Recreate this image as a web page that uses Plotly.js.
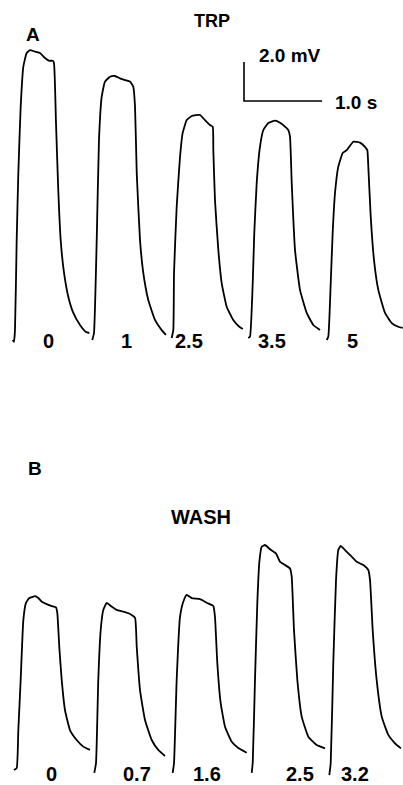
<!DOCTYPE html>
<html>
<head>
<meta charset="utf-8">
<script src="https://cdn.plot.ly/plotly-3.0.1.min.js"></script>
<style>html,body{margin:0;padding:0;background:#fff;}#chart{width:403px;height:785px;}</style>
</head>
<body>
<div id="chart"></div>
<script>
// ---- Data: time (s) and potential (mV) ----
// Panel A: TRP, concentration labels
var trpLabels = ['0', '1', '2.5', '3.5', '5'];
var trpTimes = [
  [0.163,0.179,0.192,0.214,0.235,0.265,0.299,0.342,0.385,0.449,0.513,0.577,0.632,0.676,0.692,0.718,0.747,0.778,0.821,0.876,0.940,1.026,1.103,1.145],
  [1.183,1.205,1.240,1.269,1.304,1.346,1.410,1.474,1.538,1.603,1.667,1.709,1.731,1.753,1.795,1.837,1.901,1.987,2.073,2.128],
  [2.201,2.222,2.231,2.265,2.308,2.342,2.394,2.458,2.564,2.628,2.692,2.727,2.735,2.756,2.799,2.842,2.906,2.991,3.068,3.112],
  [3.183,3.205,3.240,3.260,3.291,3.333,3.376,3.440,3.526,3.590,3.654,3.696,3.718,3.740,3.782,3.846,3.932,4.017,4.103],
  [4.188,4.209,4.240,4.265,4.295,4.337,4.394,4.445,4.529,4.615,4.679,4.709,4.722,4.753,4.795,4.850,4.936,5.022,5.106,5.163]
];
var trpVolts = [
  [0.05,-0.04,0.56,5.18,8.62,12.0,14.07,14.77,14.92,14.84,14.77,14.51,14.37,14.37,14.26,11.18,7.74,5.18,3.49,2.26,1.44,0.82,0.46,0.41],
  [0.05,0.41,5.18,10.31,12.53,13.30,13.55,13.59,13.47,13.38,13.30,13.04,12.02,8.62,5.18,3.49,2.10,1.08,0.56,0.31],
  [0.15,0.56,3.49,6.87,9.44,10.67,11.33,11.54,11.59,11.33,11.08,10.99,9.79,7.23,4.67,2.97,1.76,1.08,0.73,0.62],
  [0.15,0.22,2.97,5.54,8.10,9.96,10.82,11.18,11.30,11.19,10.99,10.82,10.48,8.10,4.67,2.62,1.44,0.82,0.56],
  [0.05,0.22,2.97,5.54,7.59,8.94,9.64,9.79,10.22,10.17,9.96,9.79,8.94,6.37,4.15,2.62,1.44,0.92,0.73,0.67]
];
// Panel B: WASH, time labels
var washLabels = ['0', '0.7', '1.6', '2.5', '3.2'];
var washTimes = [
  [0.179,0.214,0.235,0.265,0.299,0.333,0.376,0.427,0.449,0.491,0.535,0.599,0.663,0.718,0.735,0.760,0.791,0.833,0.897,0.983,1.068,1.154],
  [1.209,1.231,1.260,1.291,1.324,1.368,1.432,1.496,1.581,1.667,1.731,1.753,1.795,1.859,1.945,2.029,2.115],
  [2.214,2.231,2.265,2.308,2.350,2.394,2.458,2.564,2.650,2.735,2.756,2.786,2.829,2.885,2.971,3.055,3.163],
  [3.227,3.240,3.269,3.299,3.324,3.355,3.397,3.462,3.538,3.590,3.654,3.718,3.740,3.769,3.812,3.868,3.953,4.060,4.167],
  [4.222,4.240,4.273,4.308,4.337,4.368,4.423,4.509,4.573,4.658,4.722,4.744,4.778,4.829,4.894,4.978,5.064,5.141]
];
var washVolts = [
  [0.05,0.15,2.10,4.67,7.74,8.62,8.87,8.94,8.97,8.87,8.68,8.56,8.46,8.39,8.10,6.37,4.67,3.13,2.10,1.59,1.25,1.08],
  [-0.10,0.41,4.67,7.23,8.26,8.62,8.43,8.26,8.17,8.05,7.85,6.37,4.15,2.62,1.59,1.08,0.77],
  [-0.10,0.41,4.67,7.91,8.68,9.03,8.87,8.81,8.63,8.46,7.91,5.54,3.49,2.27,1.50,1.18,0.94],
  [-0.10,0.41,4.67,8.62,10.67,11.50,11.59,11.37,11.16,10.73,10.56,10.39,9.96,7.23,4.67,2.79,1.76,1.33,1.16],
  [-0.21,0.41,5.54,9.79,11.33,11.54,11.33,10.99,10.73,10.56,10.31,9.79,7.23,4.67,2.79,1.85,1.42,1.16]
];
// Scale bar values
var scaleTime = 1.0;   // s
var scaleVolt = 2.0;   // mV

// ---- Layout helpers ----
var W = 403, H = 785;
var pxPerS = 78, pxPerMV = 19.5;
var splitPx = 400;
var baseA = 341, baseB = 771;   // baseline pixel rows
function py(p) { return 1 - p / H; }

var lineStyle = {color: '#000', width: 1.8, shape: 'spline', smoothing: 0.4};
var traces = [];
trpTimes.forEach(function (t, i) {
  traces.push({x: t, y: trpVolts[i], type: 'scatter', mode: 'lines', line: lineStyle,
    xaxis: 'x', yaxis: 'y', hoverinfo: 'skip', showlegend: false, name: 'TRP ' + trpLabels[i]});
});
washTimes.forEach(function (t, i) {
  traces.push({x: t, y: washVolts[i], type: 'scatter', mode: 'lines', line: lineStyle,
    xaxis: 'x', yaxis: 'y2', hoverinfo: 'skip', showlegend: false, name: 'WASH ' + washLabels[i]});
});
// scale bar
var sbT = 244 / pxPerS, sbV = (baseA - 101) / pxPerMV;
traces.push({x: [sbT, sbT, sbT + scaleTime], y: [sbV + scaleVolt, sbV, sbV], type: 'scatter', mode: 'lines',
  line: {color: '#000', width: 1.6}, xaxis: 'x', yaxis: 'y', hoverinfo: 'skip', showlegend: false});

var fam = 'Liberation Sans, Arial, sans-serif';
function f(size) { return {family: fam, color: '#000', size: size, weight: 'bold'}; }
var ann = [];
var trpLabelT = [0.628, 1.628, 2.423, 3.487, 4.513];
trpLabels.forEach(function (l, i) {
  ann.push({text: l, x: trpLabelT[i], y: 0, xref: 'x', yref: 'y', showarrow: false, font: f(20), xanchor: 'center', yanchor: 'middle'});
});
var washLabelT = [0.654, 1.756, 2.654, 3.846, 4.551];
washLabels.forEach(function (l, i) {
  ann.push({text: l, x: washLabelT[i], y: -0.15, xref: 'x', yref: 'y2', showarrow: false, font: f(20), xanchor: 'center', yanchor: 'middle'});
});
ann.push({text: 'A', x: 33 / W, y: py(35), xref: 'paper', yref: 'paper', showarrow: false, font: f(19), xanchor: 'center', yanchor: 'middle'});
ann.push({text: 'TRP', x: 212 / W, y: py(21), xref: 'paper', yref: 'paper', showarrow: false, font: f(18), xanchor: 'center', yanchor: 'middle'});
ann.push({text: 'B', x: 35 / W, y: py(468), xref: 'paper', yref: 'paper', showarrow: false, font: f(19), xanchor: 'center', yanchor: 'middle'});
ann.push({text: 'WASH', x: 201 / W, y: py(517), xref: 'paper', yref: 'paper', showarrow: false, font: f(20), xanchor: 'center', yanchor: 'middle'});
ann.push({text: scaleVolt.toFixed(1) + ' mV', x: 257 / pxPerS, y: (baseA - 55) / pxPerMV, xref: 'x', yref: 'y', showarrow: false, font: f(19), xanchor: 'left', yanchor: 'middle'});
ann.push({text: scaleTime.toFixed(1) + ' s', x: 333 / pxPerS, y: (baseA - 102.5) / pxPerMV, xref: 'x', yref: 'y', showarrow: false, font: f(19), xanchor: 'left', yanchor: 'middle'});

var layout = {
  width: W, height: H,
  margin: {l: 0, r: 0, t: 0, b: 0, pad: 0},
  paper_bgcolor: '#fff', plot_bgcolor: '#fff',
  showlegend: false,
  xaxis: {range: [0, W / pxPerS], visible: false, fixedrange: true},
  yaxis: {domain: [py(splitPx), 1], range: [(baseA - splitPx) / pxPerMV, baseA / pxPerMV], visible: false, fixedrange: true},
  yaxis2: {domain: [0, py(splitPx)], range: [(baseB - H) / pxPerMV, (baseB - splitPx) / pxPerMV], visible: false, fixedrange: true},
  annotations: ann
};
Plotly.newPlot('chart', traces, layout, {staticPlot: true, displayModeBar: false});
</script>
</body>
</html>
